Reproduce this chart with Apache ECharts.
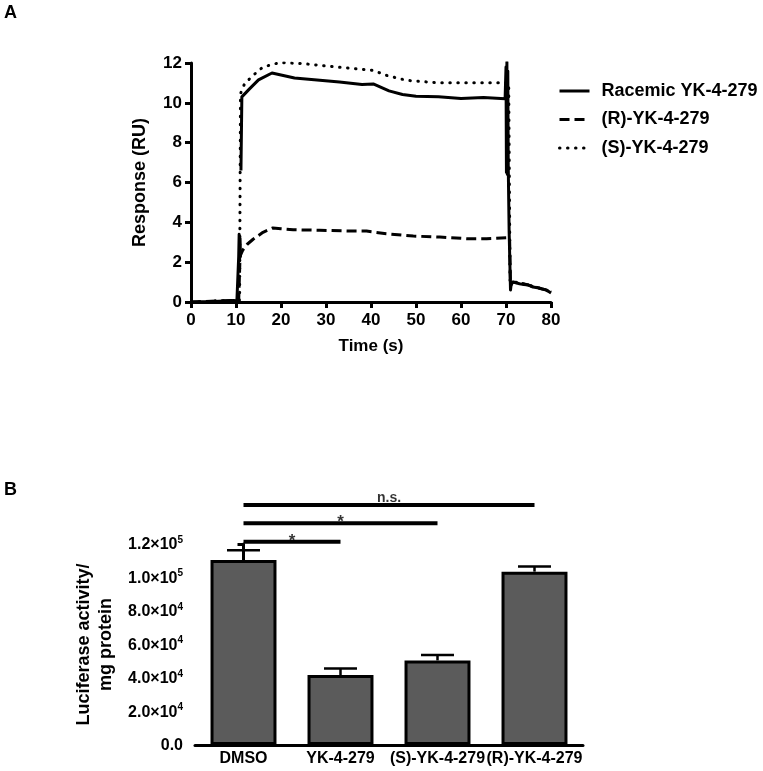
<!DOCTYPE html>
<html>
<head>
<meta charset="utf-8">
<script src="https://cdn.jsdelivr.net/npm/echarts@6/dist/echarts.min.js"></script>
<style>
html,body{margin:0;padding:0;background:#fff;}
#chart{width:763px;height:771px;}
</style>
</head>
<body>
<div id="chart"></div>
<script>
// ---------- Panel A data ----------
const seriesNamesA = ['Racemic YK-4-279', '(R)-YK-4-279', '(S)-YK-4-279'];
const timeTicksA = [0, 10, 20, 30, 40, 50, 60, 70, 80];
const respTicksA = [0, 2, 4, 6, 8, 10, 12];

const racTime = [0, 5, 9.5, 10.2, 10.5, 10.6, 10.7, 10.8, 10.9, 11.0, 11.05, 11.08, 11.1, 11.3, 11.6, 13, 15, 18, 20, 23, 28, 33, 38, 40.5, 42, 44, 47, 50, 55, 60, 65, 69.8, 70.0, 70.1, 70.2, 70.3, 70.4, 70.5, 70.7, 71.0, 71.2, 72, 73, 74, 75, 76, 77, 78, 79, 80];
const racResp = [0, 0.02, 0.08, 0.05, 0.1, 2.3, 3.4, 2.1, 3.2, 2.3, 2.6, null, 6.6, 10.3, 10.4, 10.7, 11.15, 11.5, 11.4, 11.25, 11.15, 11.05, 10.92, 10.95, 10.8, 10.6, 10.42, 10.33, 10.3, 10.22, 10.27, 10.2, 11.8, 6.5, 12.05, 6.4, 11.6, 6.8, 3.5, 0.6, 1.0, 0.98, 0.92, 0.88, 0.85, 0.75, 0.72, 0.65, 0.6, 0.45];

const rTime = [0, 9.5, 10.6, 10.9, 11.5, 12.5, 13.8, 16, 18.2, 20, 22.7, 28.6, 36, 39, 43.4, 49.4, 55.3, 61.2, 65.7, 70.1, 70.8, 71.0, 71.5, 73, 75, 77, 79, 80];
const rResp = [0, 0.08, 0.1, 2.3, 2.6, 2.9, 3.15, 3.5, 3.72, 3.68, 3.63, 3.6, 3.56, 3.56, 3.43, 3.31, 3.26, 3.18, 3.18, 3.23, 3.2, 0.8, 1.0, 0.95, 0.85, 0.72, 0.6, 0.5];

const sTime = [0, 9.5, 10.8, 11.0, 11.9, 13.8, 16, 19.7, 24.9, 32.3, 40.5, 43.4, 47.9, 54.6, 69.4, 70.6, 70.9, 72, 74, 76, 78, 80];
const sResp = [0, 0.08, 0.1, 10.46, 10.96, 11.38, 11.8, 12.02, 11.97, 11.8, 11.63, 11.38, 11.13, 11.01, 11.01, 11.0, 1.0, 1.0, 0.9, 0.78, 0.66, 0.5];

// ---------- Panel B data ----------
const categoriesB = ['DMSO', 'YK-4-279', '(S)-YK-4-279', '(R)-YK-4-279'];
const meanB = [110500, 41800, 50500, 103500];
const semB = [5800, 3800, 3200, 3000];
const yTicksB = [0, 20000, 40000, 60000, 80000, 100000, 120000];
const sigFrom = [0, 0, 0];
const sigTo = [1, 2, 3];
const sigHeight = [121400, 132400, 143300];
const sigText = ['*', '*', 'n.s.'];

// ---------- build ----------
const FONT = '"Liberation Sans", Arial, Helvetica, sans-serif';
const zip = (a, b) => a.map((t, i) => [t, b[i]]);

function sciLabel(v) {
  if (v === 0) return '{n|0.0}';
  const e = Math.floor(Math.log10(v) + 1e-9);
  const m = v / Math.pow(10, e);
  return '{n|' + m.toFixed(1) + '×10}{sup|' + e + '}';
}

const axisLineStyle = { color: '#000', width: 3 };

const chart = echarts.init(document.getElementById('chart'), null, { renderer: 'canvas' });

const series = [
  {
    name: seriesNamesA[0], type: 'line', xAxisIndex: 0, yAxisIndex: 0,
    data: zip(racTime, racResp), symbol: 'none', connectNulls: false,
    lineStyle: { color: '#000', width: 3, type: 'solid', join: 'round' },
    itemStyle: { color: '#000' }, z: 4
  },
  {
    name: seriesNamesA[1], type: 'line', xAxisIndex: 0, yAxisIndex: 0,
    data: zip(rTime, rResp), symbol: 'none',
    lineStyle: { color: '#000', width: 3, type: [10, 5] },
    itemStyle: { color: '#000' }, z: 3
  },
  {
    name: seriesNamesA[2], type: 'line', xAxisIndex: 0, yAxisIndex: 0,
    data: zip(sTime, sResp), symbol: 'none',
    lineStyle: { color: '#000', width: 3, type: [0.5, 7.5], cap: 'round' },
    itemStyle: { color: '#000' }, z: 3
  },
  {
    name: 'bars', type: 'bar', xAxisIndex: 1, yAxisIndex: 1,
    data: meanB, barWidth: '68%',
    itemStyle: { color: '#5b5b5b', borderColor: '#000', borderWidth: 3 },
    z: 2
  },
  {
    name: 'err', type: 'custom', xAxisIndex: 1, yAxisIndex: 1,
    data: meanB.map((m, i) => [i, m, m + semB[i]]),
    renderItem: function (params, api) {
      const x = api.value(0);
      const lo = api.coord([x, api.value(1)]);
      const hi = api.coord([x, api.value(2)]);
      const half = api.size([1, 0])[0] * 0.17;
      const st = { stroke: '#000', lineWidth: 2.5 };
      return {
        type: 'group',
        children: [
          { type: 'line', shape: { x1: lo[0], y1: lo[1], x2: hi[0], y2: hi[1] }, style: st },
          { type: 'line', shape: { x1: hi[0] - half, y1: hi[1], x2: hi[0] + half, y2: hi[1] }, style: st }
        ]
      };
    },
    z: 1
  }
];

sigFrom.forEach((f, i) => {
  series.push({
    name: 'sig' + i, type: 'line', xAxisIndex: 2, yAxisIndex: 1, clip: false,
    data: [[f, sigHeight[i]], [sigTo[i], sigHeight[i]]], symbol: 'none',
    lineStyle: { color: '#000', width: 4 }, silent: true, z: 5
  });
  series.push({
    name: 'sigLabel' + i, type: 'scatter', xAxisIndex: 2, yAxisIndex: 1, clip: false,
    data: [[(f + sigTo[i]) / 2, sigHeight[i]]], symbolSize: 0,
    label: {
      show: true, position: 'top', distance: sigText[i] === '*' ? -8 : 0,
      formatter: sigText[i], color: '#000', fontFamily: FONT, fontWeight: 'bold',
      fontSize: sigText[i] === '*' ? 17 : 14
    },
    silent: true, z: 5
  });
});

const option = {
  animation: false,
  backgroundColor: '#fff',
  textStyle: { fontFamily: FONT },
  title: [
    { text: 'A', left: 4, top: 4, padding: 0, textStyle: { fontSize: 18, fontWeight: 'bold', color: '#000', fontFamily: FONT } },
    { text: 'B', left: 4, top: 481, padding: 0, textStyle: { fontSize: 18, fontWeight: 'bold', color: '#000', fontFamily: FONT } }
  ],
  legend: {
    data: seriesNamesA,
    orient: 'vertical', left: 553, top: 77,
    itemWidth: 30, itemHeight: 14, itemGap: 10.5,
    textStyle: { fontSize: 18, fontWeight: 'bold', color: '#000', fontFamily: FONT, padding: [0, 0, 0, 7] },
    lineStyle: { width: 3 },
    itemStyle: { opacity: 0 },
    selectedMode: false
  },
  grid: [
    { left: 191, top: 63, width: 360, height: 239 },
    { left: 195, top: 544, width: 388, height: 201 }
  ],
  xAxis: [
    {
      type: 'value', gridIndex: 0, min: timeTicksA[0], max: timeTicksA[timeTicksA.length - 1], interval: 10,
      name: 'Time (s)', nameLocation: 'middle', nameGap: 36,
      nameTextStyle: { fontSize: 17, fontWeight: 'bold', color: '#000', fontFamily: FONT },
      axisLine: { lineStyle: axisLineStyle },
      axisTick: { show: true, length: 6, lineStyle: { color: '#000', width: 3 } },
      axisLabel: { fontSize: 17, fontWeight: 'bold', color: '#000', margin: 10, fontFamily: FONT },
      splitLine: { show: false }
    },
    {
      type: 'category', gridIndex: 1, data: categoriesB,
      axisLine: { lineStyle: axisLineStyle },
      axisTick: { show: false },
      axisLabel: { fontSize: 16, fontWeight: 'bold', color: '#000', margin: 6, interval: 0, fontFamily: FONT },
      splitLine: { show: false }
    },
    {
      type: 'value', gridIndex: 1, min: -0.5, max: 3.5, show: false
    }
  ],
  yAxis: [
    {
      type: 'value', gridIndex: 0, min: respTicksA[0], max: respTicksA[respTicksA.length - 1], interval: 2,
      name: 'Response (RU)', nameLocation: 'middle', nameGap: 42, nameRotate: 90,
      nameTextStyle: { fontSize: 18, fontWeight: 'bold', color: '#000', fontFamily: FONT },
      axisLine: { show: true, lineStyle: axisLineStyle },
      axisTick: { show: true, length: 6, lineStyle: { color: '#000', width: 3 } },
      axisLabel: { fontSize: 17, fontWeight: 'bold', color: '#000', margin: 9, fontFamily: FONT },
      splitLine: { show: false }
    },
    {
      type: 'value', gridIndex: 1, min: yTicksB[0], max: yTicksB[yTicksB.length - 1], interval: 20000,
      name: 'Luciferase activity/\nmg protein', nameLocation: 'middle', nameGap: 71, nameRotate: 90,
      nameTextStyle: { fontSize: 18, fontWeight: 'bold', color: '#000', lineHeight: 22, fontFamily: FONT },
      axisLine: { show: true, lineStyle: axisLineStyle },
      axisTick: { show: true, length: 6, lineStyle: { color: '#000', width: 3 } },
      axisLabel: {
        formatter: sciLabel, margin: 12, color: '#000',
        fontSize: 16, fontWeight: 'bold', fontFamily: FONT,
        rich: {
          n: { fontSize: 16, fontWeight: 'bold', color: '#000', fontFamily: FONT, lineHeight: 18, verticalAlign: 'bottom' },
          sup: { fontSize: 10, fontWeight: 'bold', color: '#000', fontFamily: FONT, lineHeight: 10, verticalAlign: 'top' }
        }
      },
      splitLine: { show: false }
    }
  ],
  series: series
};

chart.setOption(option);
</script>
</body>
</html>
